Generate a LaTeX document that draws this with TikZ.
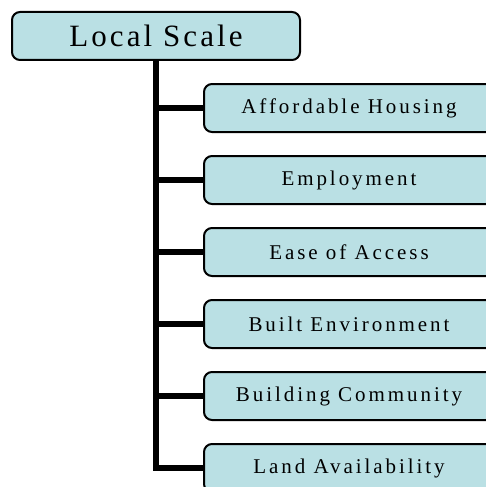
\documentclass[tikz,border=0pt]{standalone}
\usepackage{fontspec}
\setmainfont{Liberation Serif}
\newfontfamily\headfont[LetterSpace=10]{Liberation Serif}
\newfontfamily\itemfont[LetterSpace=14]{Liberation Serif}
\definecolor{boxfill}{RGB}{186,224,228}
\pgfdeclarelayer{connectors}
\pgfsetlayers{connectors,main}
\begin{document}
\begin{tikzpicture}[x=1pt,y=-1pt,
  box/.style={draw=black, line width=2pt, fill=boxfill, rounded corners=8pt,
    minimum width=290pt, minimum height=48pt, inner sep=0pt, anchor=center},
  headbox/.style={box, minimum width=288pt, font=\headfont\fontsize{31}{37}\selectfont},
  itembox/.style={box, font=\itemfont\fontsize{21}{25}\selectfont},
  trunk/.style={line width=6pt, black}]
\useasboundingbox (0,0) rectangle (486,487);
\clip (0,0) rectangle (486,487);

% heading and the six topics under it
\node[headbox] (head) at (156,36) {Local Scale};
\node[itembox] (i1) at (349,108) {Affordable Housing};
\node[itembox] (i2) at (349,180) {Employment};
\node[itembox] (i3) at (349,252) {Ease of Access};
\node[itembox] (i4) at (349,324) {Built Environment};
\node[itembox] (i5) at (349,396) {Building Community};
\node[itembox] (i6) at (349,468) {Land Availability};

% the tree: one vertical trunk with a branch to each topic
\begin{pgfonlayer}{connectors}
  \coordinate (trunkend) at (head.south |- i6.west);
  \draw[trunk] (head.south) -- ([yshift=3pt]trunkend);
  \foreach \n in {i1,i2,i3,i4,i5,i6}
    \draw[trunk] ([xshift=-3pt]head.south |- \n.west) -- (\n.west);
\end{pgfonlayer}
\end{tikzpicture}
\end{document}
